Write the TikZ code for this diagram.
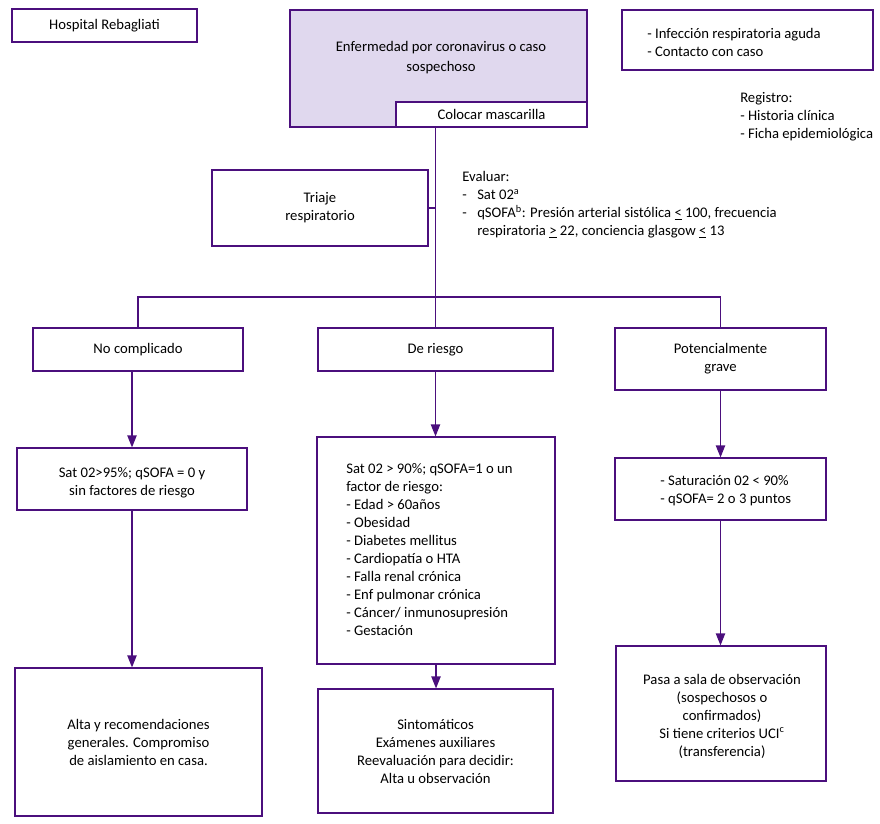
\documentclass[tikz,border=0pt]{standalone}
\usepackage{fontspec}
\setmainfont{Carlito}
\usetikzlibrary{arrows.meta,positioning}
\definecolor{flowline}{RGB}{75,15,125}
\definecolor{flowfill}{RGB}{224,216,238}
\newcommand{\evdash}{\makebox[11.25pt][l]{-}}

\begin{document}
\begin{tikzpicture}[x=0.75pt, y=-0.75pt,
    every node/.style={font=\fontsize{11}{13.5}\selectfont, text=black},
    box/.style={draw=flowline, line width=0.9pt, inner sep=0pt, align=center},
    sz/.style n args={2}{minimum width=#1*0.75pt, minimum height=#2*0.75pt},
    txt/.style={inner sep=0pt, align=left, anchor=west},
    link/.style={draw=flowline, line width=0.9pt},
    arr/.style={link, -{Triangle[length=9pt, width=7pt]}}]
    \useasboundingbox (0,0) rectangle (880,823);

    % header
    \node[box, sz={185}{33}] (hosp) at (104.5,25.5) {Hospital Rebagliati};
    \node[box, sz={297}{117}, fill=flowfill] (caso) at (438.5,68.5) {};
    \node[inner sep=0pt, align=center] (casotxt) at (441,58) {Enfermedad por coronavirus o caso\\[1.5pt]sospechoso};
    \node[box, sz={191}{25}, fill=white] (masc) at (491.5,114.5) {Colocar mascarilla};
    \node[box, sz={251}{60}] (crit) at (747.5,40) {};
    \node[txt] (crittxt) at (647,42) {- Infección respiratoria aguda\\- Contacto con caso};
    \node[txt] (reg) at (740,117) {Registro:\\- Historia clínica\\- Ficha epidemiológica};

    % triage
    \node[box, sz={216}{76}] (triaje) at (320,208) {Triaje\\respiratorio};
    \node[txt] (eval) at (462,205) {Evaluar:\\
        \evdash Sat 02\textsuperscript{a}\\
        \evdash qSOFA\textsuperscript{b}: Presión arterial sistólica \underline{<} 100, frecuencia\\
        \hspace*{11.25pt}respiratoria \underline{>} 22, conciencia glasgow \underline{<} 13};

    % classification
    \node[box, sz={210}{43}] (nocomp) at (138,349.5) {No complicado};
    \node[box, sz={235}{43}] (riesgo) at (435.5,349.5) {De riesgo};
    \node[box, sz={211}{62}] (grave) at (720.5,359) {Potencialmente\\grave};

    % criteria
    \node[box, sz={230}{62}] (sat) at (132,479) {};
    \node[inner sep=0pt, align=center] (sattxt) at (132,483) {Sat 02>95\%; qSOFA = 0 y\\sin factores de riesgo};
    \node[box, sz={238}{227}] (factores) at (436,550.5) {};
    \node[txt] (factxt) at (346,550) {Sat 02 > 90\%; qSOFA=1 o un\\factor de riesgo:\\- Edad > 60años\\- Obesidad\\
        - Diabetes mellitus\\- Cardiopatía o HTA\\- Falla renal crónica\\- Enf pulmonar crónica\\
        - Cáncer/ inmunosupresión\\- Gestación};
    \node[box, sz={211}{62}] (sat90) at (720.5,489) {};
    \node[txt] (sat90txt) at (660,491) {- Saturación 02 < 90\%\\- qSOFA= 2 o 3 puntos};

    % outcomes
    \node[box, sz={247}{148}] (alta) at (138.5,742) {Alta y recomendaciones\\generales. Compromiso\\de aislamiento en casa.};
    \node[box, sz={235}{124}] (sint) at (435.5,751) {Sintomáticos\\Exámenes auxiliares\\Reevaluación para decidir:\\Alta u observación};
    \node[box, sz={210}{135}] (obs) at (721,713.5) {};
    \node[inner sep=0pt, align=center] (obstxt) at (722,716) {Pasa a sala de observación\\(sospechosos o\\confirmados)\\Si tiene criterios UCI\textsuperscript{c}\\(transferencia)};

    % connectors
    \coordinate (split) at (riesgo.north |- 0,297);
    \draw[link] (caso.south -| split) -- (riesgo.north);
    \draw[link] (triaje.east) -- (triaje.east -| split);
    \draw[link] (nocomp.north) |- (split) -| (grave.north);
    \draw[arr] (nocomp.south -| sat.north) -- (sat.north);
    \draw[arr] (sat.south) -- (alta.north -| sat.south);
    \draw[arr] (riesgo.south) -- (factores.north -| riesgo.south);
    \draw[arr] (factores.south) -- (sint.north -| factores.south);
    \draw[arr] (grave.south) -- (sat90.north);
    \draw[arr] (sat90.south) -- (obs.north -| sat90.south);
\end{tikzpicture}
\end{document}
